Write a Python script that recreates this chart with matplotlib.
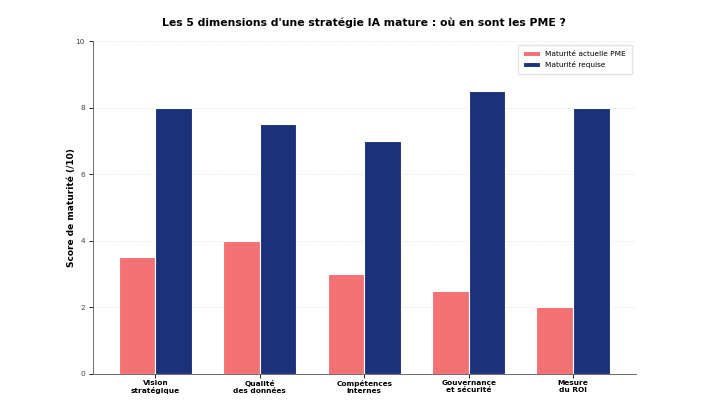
import numpy as np
import matplotlib
matplotlib.use("Agg")
import matplotlib.pyplot as plt

categories = ["Vision\nstratégique", "Qualité\ndes données", "Compétences\ninternes",
              "Gouvernance\net sécurité", "Mesure\ndu ROI"]
actuelle = [3.5, 4, 3, 2.5, 2]
requise = [8, 7.5, 7, 8.5, 8]

RED = '#f47174'
BLUE = '#1c317c'

fig = plt.figure(figsize=(7.24, 4.15), dpi=100)
ax = fig.add_axes([0.128, 0.099, 0.75, 0.802])

x = np.arange(len(categories))
w = 0.35
ax.bar(x - w/2, actuelle, w, color=RED, edgecolor='white', linewidth=0.8,
       label='Maturité actuelle PME', zorder=3)
ax.bar(x + w/2, requise, w, color=BLUE, edgecolor='white', linewidth=0.8,
       label='Maturité requise', zorder=3)

ax.set_xlim(-0.6, 4.6)
ax.set_ylim(0, 10)
ax.set_xticks(x)
ax.set_xticklabels(categories, fontsize=5.3, fontweight='bold', linespacing=1.15)
ax.set_yticks([0, 2, 4, 6, 8, 10])
ax.tick_params(axis='y', labelsize=5.3, length=3, width=0.6, labelcolor='#444444', pad=2.5)
ax.tick_params(axis='x', length=3, width=0.6, pad=1.5)
ax.set_ylabel('Score de maturité (/10)', fontsize=6.5, fontweight='bold')
ax.yaxis.set_label_coords(-0.03, 0.5)
ax.set_title("Les 5 dimensions d'une stratégie IA mature : où en sont les PME ?",
             fontsize=7.8, fontweight='bold', pad=11)

ax.yaxis.grid(True, linestyle=':', color='#dddddd', linewidth=0.6, zorder=0)
for s in ['top', 'right']:
    ax.spines[s].set_visible(False)
for s in ['left', 'bottom']:
    ax.spines[s].set_linewidth(0.6)
    ax.spines[s].set_color('#555555')

ax.legend(loc='upper right', fontsize=5.3, frameon=True, edgecolor='#dddddd',
          handlelength=2.2, borderpad=0.8, labelspacing=0.6)

fig.savefig('out.png', dpi=100)
